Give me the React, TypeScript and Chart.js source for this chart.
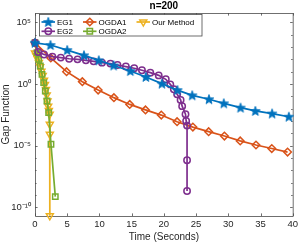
import React, { useEffect, useRef } from "react";
import { Chart, registerables } from "chart.js";

Chart.register(...registerables);

const TITLE = "n=200";
const X_LABEL = "Time (Seconds)";
const Y_LABEL = "Gap Function";
const X_TICKS = [0, 5, 10, 15, 20, 25, 30, 35, 40];
const Y_MAJOR = [1e-10, 1e-5, 1, 1e5];
const Y_MAJOR_LABELS = ["10⁻¹⁰", "10⁻⁵", "10⁰", "10⁵"];
const Y_DECADES = [1e-10, 1e-9, 1e-8, 1e-7, 1e-6, 1e-5, 1e-4, 1e-3, 1e-2, 1e-1, 1, 1e1, 1e2, 1e3, 1e4, 1e5];
const X_MIN = 0;
const X_MAX = 40;
const Y_MIN = 1.95e-11;
const Y_MAX = 5.75e5;

const EG1_T = [0, 2.4, 5, 7.6, 9.9, 12.2, 14.8, 17.2, 19.7, 22.1, 24.4, 27, 29.3, 31.9, 34.2, 36.8, 39.4];
const EG1_V = [2.2e3, 1.45e3, 5.6e2, 2.1e2, 83, 32, 11.2, 3.7, 1.07, 0.32, 0.12, 5.8e-2, 2.7e-2, 1.2e-2, 6.5e-3, 4.0e-3, 2.2e-3];

const EG2_T = [0, 0.5, 1.4, 2.7, 4.0, 5.3, 6.6, 7.9, 9.1, 10.4, 11.7, 12.8, 14.1, 15.4, 16.6, 17.9, 19.2, 20.3, 21.0, 21.55, 22.06, 22.6, 22.84, 23.36, 23.46, 23.6, 23.6, 23.6];
const EG2_V = [2.2e3, 3.9e2, 2.5e2, 1.66e2, 1.38e2, 1.12e2, 1.0e2, 83, 69, 54, 45, 35, 26, 19, 13, 8.3, 5.0, 2.4, 0.93, 0.37, 0.145, 5.1e-2, 1.6e-2, 3.5e-3, 1.0e-3, 4.2e-4, 6.5e-7, 2.1e-9];

const OGDA1_T = [0, 2.45, 4.9, 7.35, 9.8, 12.25, 14.7, 17.15, 19.6, 22.05, 24.5, 26.95, 29.4, 31.85, 34.3, 36.75, 39.2];
const OGDA1_V = [2.2e3, 1.3e2, 10, 1.55, 0.32, 7.8e-2, 2.2e-2, 7.9e-3, 3.0e-3, 8.7e-4, 3.2e-4, 1.35e-4, 6.0e-5, 2.4e-5, 1.12e-5, 5.8e-6, 3.0e-6];

const OGDA2_T = [0, 0.31, 0.57, 0.82, 1.09, 1.35, 1.6, 1.86, 2.12, 2.48, 3.15];
const OGDA2_V = [2.2e3, 3.5e2, 1.0e2, 29, 6.0, 1.3, 0.27, 4.2e-2, 4.8e-3, 1.3e-5, 7.2e-10];

const OUR_T = [0, 0.2, 0.4, 0.6, 0.8, 1.0, 1.2, 1.4, 1.55, 1.7, 1.82, 1.94, 2.05, 2.15, 2.28, 2.3, 2.3, 2.3];
const OUR_V = [3.2e2, 2.0e2, 1.1e2, 56, 25, 11, 5.0, 2.0, 0.89, 0.35, 0.13, 4.2e-2, 1.6e-2, 7.1e-3, 3.5e-3, 5.4e-4, 8.3e-5, 2.0e-11];

const C_EG1 = "#0072BD";
const C_EG2 = "#7E2F8E";
const C_OGDA1 = "#D95319";
const C_OGDA2 = "#77AC30";
const C_OUR = "#EDB120";
const AXIS = "#262626";
const BOX = "#4a4a4a";
const FONT = '"Liberation Sans", Arial, Helvetica, sans-serif';

function makeStar(color: string, r: number): HTMLCanvasElement {
  const s = Math.ceil(r * 2 + 2);
  const c = document.createElement("canvas");
  c.width = s;
  c.height = s;
  const g = c.getContext("2d")!;
  const cx = s / 2;
  const cy = s / 2 + 0.4;
  g.beginPath();
  for (let i = 0; i < 10; i++) {
    const rr = i % 2 === 0 ? r : r * 0.42;
    const a = -Math.PI / 2 + (i * Math.PI) / 5;
    const px = cx + rr * Math.cos(a);
    const py = cy + rr * Math.sin(a);
    if (i === 0) g.moveTo(px, py);
    else g.lineTo(px, py);
  }
  g.closePath();
  g.fillStyle = color;
  g.fill();
  g.strokeStyle = color;
  g.lineWidth = 0.9;
  g.stroke();
  return c;
}

function pts(t: number[], v: number[]) {
  return t.map((x, i) => ({ x, y: v[i] }));
}

function drawMarker(ctx: CanvasRenderingContext2D, style: string, x: number, y: number, r: number, rot: number) {
  ctx.beginPath();
  if (style === "circle") {
    ctx.arc(x, y, r, 0, Math.PI * 2);
  } else if (style === "rectRot") {
    ctx.moveTo(x, y - r);
    ctx.lineTo(x + r, y);
    ctx.lineTo(x, y + r);
    ctx.lineTo(x - r, y);
    ctx.closePath();
  } else if (style === "rect") {
    const h = r * Math.SQRT1_2;
    ctx.rect(x - h, y - h, 2 * h, 2 * h);
  } else if (style === "triangle") {
    const sgn = rot === 180 ? -1 : 1;
    const a = r;
    ctx.moveTo(x, y - sgn * a);
    ctx.lineTo(x - a * 0.866, y + sgn * a * 0.5);
    ctx.lineTo(x + a * 0.866, y + sgn * a * 0.5);
    ctx.closePath();
  }
  ctx.fill();
  ctx.stroke();
}

export default function App() {
  const ref = useRef<HTMLCanvasElement | null>(null);

  useEffect(() => {
    const canvas = ref.current;
    if (!canvas) return;
    const star = makeStar(C_EG1, 5);

    const series = [
      { label: "EG1", t: EG1_T, v: EG1_V, color: C_EG1, style: star as any, radius: 5, rot: 0, fill: C_EG1 },
      { label: "EG2", t: EG2_T, v: EG2_V, color: C_EG2, style: "circle", radius: 3.2, rot: 0, fill: "rgba(0,0,0,0)" },
      { label: "OGDA1", t: OGDA1_T, v: OGDA1_V, color: C_OGDA1, style: "rectRot", radius: 3.8, rot: 0, fill: "rgba(0,0,0,0)" },
      { label: "OGDA2", t: OGDA2_T, v: OGDA2_V, color: C_OGDA2, style: "rect", radius: 3.8, rot: 0, fill: "rgba(0,0,0,0)" },
      { label: "Our Method", t: OUR_T, v: OUR_V, color: C_OUR, style: "triangle", radius: 4, rot: 180, fill: "rgba(0,0,0,0)" },
    ];

    const boxPlugin = {
      id: "matlabBox",
      beforeDatasetsDraw(chart: any) {
        const { ctx, chartArea } = chart;
        const { left, right, top, bottom } = chartArea;
        const xs = chart.scales.x;
        const ys = chart.scales.y;
        ctx.save();
        ctx.strokeStyle = BOX;
        ctx.lineWidth = 0.8;
        ctx.beginPath();
        ctx.rect(left + 0.5, top + 0.5, right - left, bottom - top);
        ctx.stroke();
        ctx.beginPath();
        for (const t of X_TICKS) {
          const px = Math.round(xs.getPixelForValue(t)) + 0.5;
          ctx.moveTo(px, bottom);
          ctx.lineTo(px, bottom - 2.6);
          ctx.moveTo(px, top);
          ctx.lineTo(px, top + 2.6);
        }
        for (const d of Y_DECADES) {
          const py = Math.round(ys.getPixelForValue(d)) + 0.5;
          const major = Y_MAJOR.includes(d);
          const len = major ? 2.6 : 1.6;
          ctx.moveTo(left, py);
          ctx.lineTo(left + len, py);
          ctx.moveTo(right, py);
          ctx.lineTo(right - len, py);
        }
        ctx.stroke();
        ctx.restore();
      },
      afterDraw(chart: any) {
        const { ctx, chartArea } = chart;
        ctx.save();
        ctx.fillStyle = "#000000";
        ctx.font = `bold 10px ${FONT}`;
        ctx.textAlign = "center";
        ctx.textBaseline = "middle";
        ctx.fillText(TITLE, (chartArea.left + chartArea.right) / 2, 6.5);

        const bx = 39.5, by = 14.5, bw = 162.5, bh = 21.5;
        ctx.fillStyle = "#ffffff";
        ctx.fillRect(bx, by, bw, bh);
        ctx.strokeStyle = BOX;
        ctx.lineWidth = 0.8;
        ctx.strokeRect(bx, by, bw, bh);
        const cols = [41.5, 83, 136.5];
        const rows = [22, 31.3];
        const place = [
          [0, 0],
          [0, 1],
          [1, 0],
          [1, 1],
          [2, 0],
        ];
        series.forEach((s, i) => {
          const [c, r] = place[i];
          const x0 = cols[c];
          const y0 = rows[r];
          ctx.strokeStyle = s.color;
          ctx.lineWidth = 1.7;
          ctx.beginPath();
          ctx.moveTo(x0, y0);
          ctx.lineTo(x0 + 13.5, y0);
          ctx.stroke();
          const mx = x0 + 6.8;
          if (s.style === star) {
            ctx.drawImage(star, mx - star.width / 2, y0 - star.height / 2);
          } else {
            ctx.fillStyle = s.fill;
            ctx.strokeStyle = s.color;
            ctx.lineWidth = 1.5;
            drawMarker(ctx, s.style as string, mx, y0, s.radius, s.rot);
          }
          ctx.fillStyle = "#000000";
          ctx.font = `8px ${FONT}`;
          ctx.textAlign = "left";
          ctx.textBaseline = "middle";
          ctx.fillText(s.label, x0 + 15.5, y0 + 0.3);
        });
        ctx.restore();
      },
    };

    const chart = new Chart(canvas, {
      type: "line",
      data: {
        datasets: series.map((s) => ({
          label: s.label,
          data: pts(s.t, s.v),
          borderColor: s.color,
          backgroundColor: s.fill,
          borderWidth: 1.7,
          pointStyle: s.style,
          pointRadius: s.radius,
          pointRotation: s.rot,
          pointBorderColor: s.color,
          pointBackgroundColor: s.fill,
          pointBorderWidth: 1.5,
          tension: 0,
          fill: false,
          clip: false as any,
        })),
      },
      plugins: [boxPlugin],
      options: {
        animation: false,
        responsive: false,
        maintainAspectRatio: false,
        devicePixelRatio: 1,
        layout: { padding: { top: 13, right: 6, left: 0, bottom: 0 } },
        plugins: {
          legend: { display: false },
          tooltip: { enabled: false },
          title: { display: false },
        },
        scales: {
          x: {
            type: "linear",
            min: X_MIN,
            max: X_MAX,
            afterBuildTicks: (scale: any) => {
              scale.ticks = X_TICKS.map((v) => ({ value: v }));
            },
            afterFit: (scale: any) => {
              scale.height = 27;
            },
            grid: { display: false, drawTicks: false },
            border: { display: false },
            ticks: {
              color: AXIS,
              padding: 3,
              maxRotation: 0,
              autoSkip: false,
              font: { family: FONT, size: 9.5 },
              callback: (v: any) => String(v),
            },
            title: {
              display: true,
              text: X_LABEL,
              color: AXIS,
              padding: { top: 0, bottom: 0 },
              font: { family: FONT, size: 10 },
            },
          },
          y: {
            type: "logarithmic",
            min: Y_MIN,
            max: Y_MAX,
            afterBuildTicks: (scale: any) => {
              scale.ticks = Y_MAJOR.map((v) => ({ value: v }));
            },
            afterFit: (scale: any) => {
              scale.width = 35;
            },
            grid: { display: false, drawTicks: false },
            border: { display: false },
            ticks: {
              color: AXIS,
              padding: 4,
              autoSkip: false,
              font: { family: FONT, size: 9.5 },
              callback: (v: any) => {
                const i = Y_MAJOR.findIndex((m) => Math.abs(Math.log10(m) - Math.log10(v)) < 1e-6);
                return i >= 0 ? Y_MAJOR_LABELS[i] : "";
              },
            },
            title: {
              display: true,
              text: Y_LABEL,
              color: AXIS,
              padding: { top: 0, bottom: 0 },
              font: { family: FONT, size: 10 },
            },
          },
        },
      } as any,
    });
    return () => chart.destroy();
  }, []);

  return (
    <div style={{ position: "absolute", left: 0, top: 0, width: 301, height: 243, background: "#fff" }}>
      <canvas ref={ref} width={301} height={243} style={{ width: 301, height: 243, display: "block" }} />
    </div>
  );
}
